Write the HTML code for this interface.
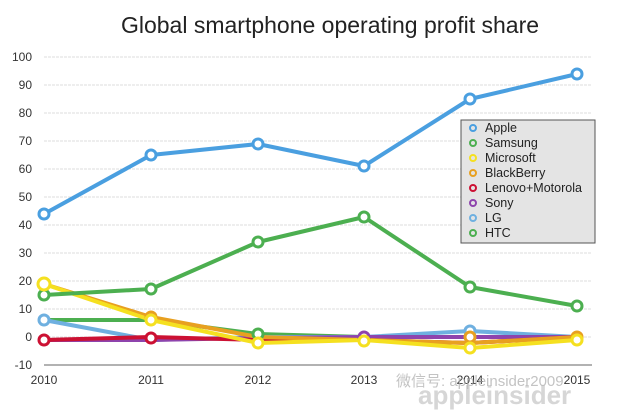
<!DOCTYPE html>
<html><head><style>
body{margin:0;background:#fff;}
svg{display:block;font-family:"Liberation Sans",sans-serif;}
</style></head><body>
<svg width="640" height="415" viewBox="0 0 640 415">
<rect width="640" height="415" fill="#fff"/>
<text x="330" y="33" font-size="23" text-anchor="middle" fill="#222">Global smartphone operating profit share</text>
<g stroke="#dcdcdc" stroke-width="1" stroke-dasharray="3,1">
<line x1="44" x2="592" y1="57" y2="57"/><line x1="44" x2="592" y1="85" y2="85"/>
<line x1="44" x2="592" y1="113" y2="113"/><line x1="44" x2="592" y1="141" y2="141"/>
<line x1="44" x2="592" y1="169" y2="169"/><line x1="44" x2="592" y1="197" y2="197"/>
<line x1="44" x2="592" y1="225" y2="225"/><line x1="44" x2="592" y1="253" y2="253"/>
<line x1="44" x2="592" y1="281" y2="281"/><line x1="44" x2="592" y1="309" y2="309"/>
<line x1="44" x2="592" y1="337" y2="337"/>
</g>
<line x1="44" x2="592" y1="365" y2="365" stroke="#999" stroke-width="1.5"/>
<g font-size="12" fill="#333" text-anchor="end">
<text x="32" y="61">100</text><text x="32" y="89">90</text><text x="32" y="117">80</text>
<text x="32" y="145">70</text><text x="32" y="173">60</text><text x="32" y="201">50</text>
<text x="32" y="229">40</text><text x="32" y="257">30</text><text x="32" y="285">20</text>
<text x="32" y="313">10</text><text x="32" y="341">0</text><text x="32" y="369">-10</text>
</g>
<g font-size="12" fill="#333" text-anchor="middle">
<text x="44" y="384">2010</text><text x="151" y="384">2011</text><text x="258" y="384">2012</text>
<text x="364" y="384">2013</text><text x="470" y="384">2014</text><text x="577" y="384">2015</text>
</g>
<g fill="none" stroke-width="4" stroke-linejoin="round">
<polyline stroke="#4caf50" points="44,320 151,320 258,334 364,337 470,337 577,337"/>
<polyline stroke="#6fb0e0" points="44,320 151,340 258,337 364,337 470,331 577,337"/>
<polyline stroke="#8e44ad" points="44,340 151,340 258,338 364,337 470,337 577,337"/>
<polyline stroke="#cc1133" points="44,340 151,337 258,340 364,340 470,343 577,337"/>
<polyline stroke="#e8a020" points="44,284 151,317 258,337 364,340 470,343 577,337"/>
<polyline stroke="#f5e020" points="44,284 151,320 258,343 364,340 470,348 577,340"/>
<polyline stroke="#4caf50" points="44,295 151,289 258,242 364,217 470,287 577,306"/>
<polyline stroke="#4a9fe0" points="44,214 151,155 258,144 364,166 470,99 577,74"/>
</g>
<g fill="#fff" stroke-width="3">
<g stroke="#4a9fe0"><circle cx="44" cy="214" r="5"/><circle cx="151" cy="155" r="5"/><circle cx="258" cy="144" r="5"/><circle cx="364" cy="166" r="5"/><circle cx="470" cy="99" r="5"/><circle cx="577" cy="74" r="5"/></g>
<g stroke="#4caf50"><circle cx="44" cy="295" r="5"/><circle cx="151" cy="289" r="5"/><circle cx="258" cy="242" r="5"/><circle cx="364" cy="217" r="5"/><circle cx="470" cy="287" r="5"/><circle cx="577" cy="306" r="5"/><circle cx="258" cy="334" r="5"/></g>
<g stroke="#6fb0e0"><circle cx="44" cy="320" r="5"/><circle cx="470" cy="331" r="5"/></g>
<g stroke="#cc1133"><circle cx="44" cy="340" r="5"/><circle cx="151" cy="338" r="5"/></g>
<g stroke="#8e44ad"><circle cx="364" cy="337" r="5"/></g>
<g stroke="#e8a020"><circle cx="151" cy="317" r="5"/><circle cx="577" cy="337" r="5"/><circle cx="470" cy="337" r="5"/></g>
<g stroke="#f5e020"><circle cx="44" cy="284" r="6"/><circle cx="151" cy="320" r="5"/><circle cx="258" cy="343" r="5"/><circle cx="364" cy="341" r="5"/><circle cx="470" cy="348" r="5"/><circle cx="577" cy="340" r="5"/></g>
</g>
<rect x="461" y="120" width="134" height="123" fill="#e4e4e4" stroke="#555" stroke-width="1"/>
<g font-size="12.5" fill="#222">
<g fill="none" stroke-width="2">
<circle cx="473" cy="128" r="3" stroke="#4a9fe0"/><circle cx="473" cy="143" r="3" stroke="#4caf50"/>
<circle cx="473" cy="158" r="3" stroke="#f5e020"/><circle cx="473" cy="173" r="3" stroke="#e8a020"/>
<circle cx="473" cy="188" r="3" stroke="#cc1133"/><circle cx="473" cy="203" r="3" stroke="#8e44ad"/>
<circle cx="473" cy="218" r="3" stroke="#6fb0e0"/><circle cx="473" cy="233" r="3" stroke="#4caf50"/>
</g>
<text x="485" y="132">Apple</text><text x="485" y="147">Samsung</text><text x="485" y="162">Microsoft</text>
<text x="485" y="177">BlackBerry</text><text x="485" y="192">Lenovo+Motorola</text><text x="485" y="207">Sony</text>
<text x="485" y="222">LG</text><text x="485" y="237">HTC</text>
</g>
<text x="396" y="386" font-size="15" fill="#aaa" opacity="0.7" font-family="Liberation Sans, Noto Sans CJK SC, sans-serif">微信号: appleinsider2009</text>
<text x="418" y="404" font-size="26" font-weight="bold" fill="#bbb" opacity="0.6">appleinsider</text>
</svg>
</body></html>
